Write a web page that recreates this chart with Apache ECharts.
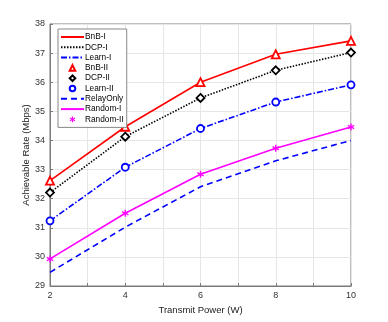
<!DOCTYPE html>
<html>
<head>
<meta charset="utf-8">
<script src="https://cdn.jsdelivr.net/npm/echarts@6/dist/echarts.min.js"></script>
<style>
html,body{margin:0;padding:0;background:#fff;}
#chart{width:388px;height:322px;}
</style>
</head>
<body>
<div id="chart"></div>
<script>
// transmit power (W)
var powers = [2, 4, 6, 8, 10];
// achievable rates (Mbps)
var bnb = [32.62, 34.47, 36.0, 36.96, 37.42];
var dcp = [32.21, 34.13, 35.46, 36.41, 37.02];
var learn = [31.24, 33.08, 34.41, 35.32, 35.91];
var relayOnly = [29.47, 31.02, 32.41, 33.3, 34.0];
var random = [29.93, 31.5, 32.84, 33.73, 34.46];

function pts(arr) {
    var out = [];
    for (var i = 0; i < powers.length; i++) {
        out.push([powers[i], arr[i]]);
    }
    return out;
}

var star = 'path://M4,0 L6,0 L6,3.6 L9.1,1.8 L10,3.5 L7,5 L10,6.5 L9.1,8.2 L6,6.4 L6,10 L4,10 L4,6.4 L0.9,8.2 L0,6.5 L3,5 L0,3.5 L0.9,1.8 L4,3.6 Z';

function lineSeries(name, arr, color, type) {
    return {
        name: name, type: 'line', data: pts(arr), symbol: 'none',
        lineStyle: {color: color, width: 1.6, type: type},
        itemStyle: {color: color},
        z: 2
    };
}
function markSeries(name, arr, color, symbol, size, filled) {
    return {
        name: name, type: 'line', data: pts(arr), symbol: symbol, symbolSize: size,
        showSymbol: true,
        lineStyle: {width: 0, opacity: 0},
        itemStyle: {color: filled ? color : '#fff', borderColor: color, borderWidth: filled ? 0 : 1.8},
        z: 3
    };
}

var lineNames = ['BnB-I', 'DCP-I', 'Learn-I', 'RelayOnly', 'Random-I'];
var legendNames = ['BnB-I', 'DCP-I', 'Learn-I', 'BnB-II', 'DCP-II', 'Learn-II', 'RelayOnly', 'Random-I', 'Random-II'];
var legendData = legendNames.map(function (n) {
    if (lineNames.indexOf(n) >= 0) {
        return {name: n, itemStyle: {opacity: 0}};
    }
    return {name: n};
});

var chart = echarts.init(document.getElementById('chart'));
var option = {
    backgroundColor: '#fff',
    animation: false,
    textStyle: {fontFamily: 'Liberation Sans, Arial, sans-serif'},
    grid: {left: 50, right: 37, top: 24, bottom: 36, show: true, borderColor: '#7a7a7a', borderWidth: 1},
    legend: {
        orient: 'vertical', left: 58, top: 29,
        backgroundColor: '#fff', borderColor: '#888', borderWidth: 1,
        padding: [3, 3, 3, 2], itemGap: 0.3, itemWidth: 23, itemHeight: 7,
        textStyle: {fontSize: 8.3, color: '#000', padding: [0, 0, 0, -4], lineHeight: 10},
        data: legendData
    },
    xAxis: {
        type: 'value', min: 2, max: 10, interval: 1,
        name: 'Transmit Power (W)', nameLocation: 'middle', nameGap: 18,
        nameTextStyle: {fontSize: 9.5, color: '#222'},
        axisLine: {lineStyle: {color: '#7a7a7a'}},
        axisTick: {inside: true, length: 3, lineStyle: {color: '#7a7a7a'}},
        axisLabel: {fontSize: 9, color: '#333', margin: 5,
            formatter: function (v) { return v % 2 === 0 ? v : ''; }},
        splitLine: {lineStyle: {color: '#e6e6e6'}}
    },
    yAxis: {
        type: 'value', min: 29, max: 38, interval: 1,
        name: 'Achievable Rate (Mbps)', nameLocation: 'middle', nameGap: 19,
        nameMoveOverlap: false,
        nameTextStyle: {fontSize: 9.5, color: '#222'},
        axisLine: {show: true, lineStyle: {color: '#7a7a7a'}},
        axisTick: {show: true, inside: true, length: 3, lineStyle: {color: '#7a7a7a'}},
        axisLabel: {fontSize: 9, color: '#333', margin: 5},
        splitLine: {lineStyle: {color: '#e6e6e6'}}
    },
    series: [
        lineSeries('BnB-I', bnb, '#ff0000', 'solid'),
        lineSeries('DCP-I', dcp, '#000000', [1.5, 1.5]),
        lineSeries('Learn-I', learn, '#0000ff', [6, 2, 1.5, 2]),
        markSeries('BnB-II', bnb, '#ff0000', 'triangle', 8, false),
        markSeries('DCP-II', dcp, '#000000', 'diamond', 8, false),
        markSeries('Learn-II', learn, '#0000ff', 'circle', 7, false),
        lineSeries('RelayOnly', relayOnly, '#0000ff', [6, 4]),
        lineSeries('Random-I', random, '#ff00ff', 'solid'),
        markSeries('Random-II', random, '#ff00ff', star, 7, true)
    ]
};
chart.setOption(option);
</script>
</body>
</html>
